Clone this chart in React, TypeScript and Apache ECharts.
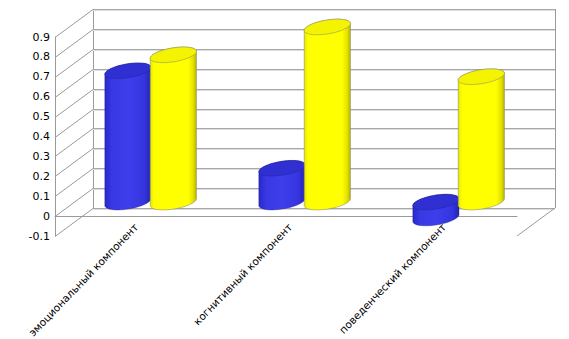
import React, { useEffect, useRef } from "react";
import * as echarts from "echarts";

const categories = ["эмоциональный компонент", "когнитивный компонент", "поведенческий компонент"];
const seriesBlue = [0.66, 0.17, -0.08];
const seriesYellow = [0.74, 0.88, 0.63];
const yTicks = [-0.1, 0, 0.1, 0.2, 0.3, 0.4, 0.5, 0.6, 0.7, 0.8, 0.9];

const DX = 38;
const DY = -28;

type Colors = { body: { offset: number; color: string }[]; cap: string; stroke: string };

const blueColors: Colors = {
  body: [
    { offset: 0, color: "#2828c8" },
    { offset: 0.15, color: "#3838e4" },
    { offset: 0.5, color: "#3e3eec" },
    { offset: 0.85, color: "#3535e0" },
    { offset: 1, color: "#2424b4" },
  ],
  cap: "#3030d2",
  stroke: "rgba(30,30,130,0.5)",
};
const yellowColors: Colors = {
  body: [
    { offset: 0, color: "#e6e600" },
    { offset: 0.08, color: "#ffff00" },
    { offset: 0.82, color: "#ffff00" },
    { offset: 0.93, color: "#e2e200" },
    { offset: 1, color: "#b4b400" },
  ],
  cap: "#f4f400",
  stroke: "rgba(140,140,110,0.8)",
};

function cylinderRender(offset: number, colors: Colors) {
  return (params: any, api: any) => {
    const cat = api.value(0);
    const v = api.value(1);
    const pv = api.coord([cat, v]);
    const p0 = api.coord([cat, 0]);
    const band = api.size([1, 0])[0];
    const cx = pv[0] + offset * band + DX / 2;
    const yA = pv[1] + DY / 2;
    const yB = p0[1] + DY / 2;
    const yTop = Math.min(yA, yB);
    const yBot = Math.max(yA, yB);
    const rx = band * 0.15;
    const ry = 7;
    const S = 0.15;
    const pt = (t: number, cy: number) => [
      cx + rx * Math.cos(t),
      cy + ry * Math.sin(t) - S * rx * Math.cos(t),
    ];
    const N = 40;
    const body: number[][] = [];
    for (let i = 0; i <= N; i++) body.push(pt((Math.PI * i) / N, yBot));
    for (let i = 0; i <= N; i++) body.push(pt(Math.PI + (Math.PI * i) / N, yTop));
    const cap: number[][] = [];
    for (let i = 0; i < 2 * N; i++) cap.push(pt((2 * Math.PI * i) / (2 * N), yTop));
    return {
      type: "group",
      children: [
        {
          type: "polygon",
          shape: { points: body },
          style: {
            fill: new echarts.graphic.LinearGradient(0, 0, 1, 0, colors.body),
            stroke: colors.stroke,
            lineWidth: 0.7,
          },
        },
        {
          type: "polygon",
          shape: { points: cap },
          style: { fill: colors.cap, stroke: colors.stroke, lineWidth: 0.7 },
        },
      ],
    };
  };
}

function frameRender(params: any, api: any) {
  const cs = params.coordSys;
  const L = cs.x;
  const R = cs.x + cs.width;
  const T = cs.y;
  const B = cs.y + cs.height;
  const y = Math.round(api.coord([0, api.value(1)])[1]) + 0.5;
  const children: any[] = [
    {
      type: "line",
      shape: { x1: L, y1: y, x2: L + DX, y2: y + DY },
      style: { stroke: "#9a9a9a", lineWidth: 1 },
    },
    {
      type: "line",
      shape: { x1: L + DX, y1: y + DY, x2: R + DX, y2: y + DY },
      style: { stroke: "#a8a8a8", lineWidth: 1 },
    },
    {
      type: "line",
      shape: { x1: L + DX, y1: y + DY + 1, x2: R + DX, y2: y + DY + 1 },
      style: { stroke: "#dcdcdc", lineWidth: 1 },
    },
  ];
  if (params.dataIndex === 0) {
    const lx = Math.round(L + DX) + 0.5;
    const rxx = Math.round(R + DX) + 0.5;
    children.push(
      {
        type: "line",
        shape: { x1: lx, y1: T + DY, x2: lx, y2: B + DY },
        style: { stroke: "#9a9a9a", lineWidth: 1 },
      },
      {
        type: "line",
        shape: { x1: rxx, y1: T + DY, x2: rxx, y2: B + DY },
        style: { stroke: "#9a9a9a", lineWidth: 1 },
      },
      {
        type: "line",
        shape: { x1: R, y1: B, x2: R + DX, y2: B + DY },
        style: { stroke: "#9a9a9a", lineWidth: 1 },
      }
    );
  }
  return { type: "group", children };
}

function labelRender(params: any, api: any) {
  const i = api.value(0);
  const p = api.coord([i, api.value(1)]);
  return {
    type: "text",
    x: p[0] + 4,
    y: p[1] - 11,
    rotation: (46 * Math.PI) / 180,
    style: {
      text: categories[params.dataIndex],
      fill: "#000",
      fontSize: 10.5,
      fontFamily: "DejaVu Sans",
      align: "right",
      verticalAlign: "middle",
    },
  };
}

export default function App() {
  const ref = useRef<HTMLDivElement>(null);
  useEffect(() => {
    if (!ref.current) return;
    const chart = echarts.init(ref.current, undefined, { renderer: "svg" });
    chart.setOption({
      animation: false,
      backgroundColor: "#ffffff",
      textStyle: { fontFamily: "DejaVu Sans" },
      grid: {
        left: 55,
        right: 52,
        top: 37,
        bottom: 103,
        containLabel: false,
        outerBoundsMode: "none",
      },
      xAxis: {
        type: "category",
        data: categories,
        boundaryGap: true,
        axisLine: { show: true, lineStyle: { color: "#9a9a9a", width: 1 } },
        axisTick: { show: false },
        splitLine: { show: false },
        axisLabel: { show: false },
      },
      yAxis: {
        type: "value",
        min: -0.1,
        max: 0.9,
        interval: 0.1,
        axisLine: { show: true, lineStyle: { color: "#9a9a9a", width: 1 } },
        axisTick: { show: false },
        splitLine: { show: false },
        axisLabel: {
          margin: 5,
          fontSize: 11,
          color: "#000",
          fontFamily: "DejaVu Sans",
          formatter: (v: number) => String(parseFloat(v.toFixed(1))),
        },
      },
      series: [
        {
          type: "custom",
          name: "frame",
          z: 1,
          clip: false,
          silent: true,
          data: yTicks.map((v) => [0, v]),
          renderItem: frameRender,
        },
        {
          type: "custom",
          name: "blue",
          z: 2,
          clip: false,
          data: seriesBlue.map((v, i) => [i, v]),
          renderItem: cylinderRender(-0.15, blueColors),
        },
        {
          type: "custom",
          name: "yellow",
          z: 3,
          clip: false,
          data: seriesYellow.map((v, i) => [i, v]),
          renderItem: cylinderRender(0.145, yellowColors),
        },
        {
          type: "custom",
          name: "categoryLabels",
          z: 4,
          clip: false,
          silent: true,
          data: categories.map((c, i) => [i, -0.1]),
          renderItem: labelRender,
        },
      ],
    });
    return () => chart.dispose();
  }, []);
  return (
    <div
      ref={ref}
      style={{ position: "fixed", left: 0, top: 0, width: 569, height: 339, background: "#fff" }}
    />
  );
}
